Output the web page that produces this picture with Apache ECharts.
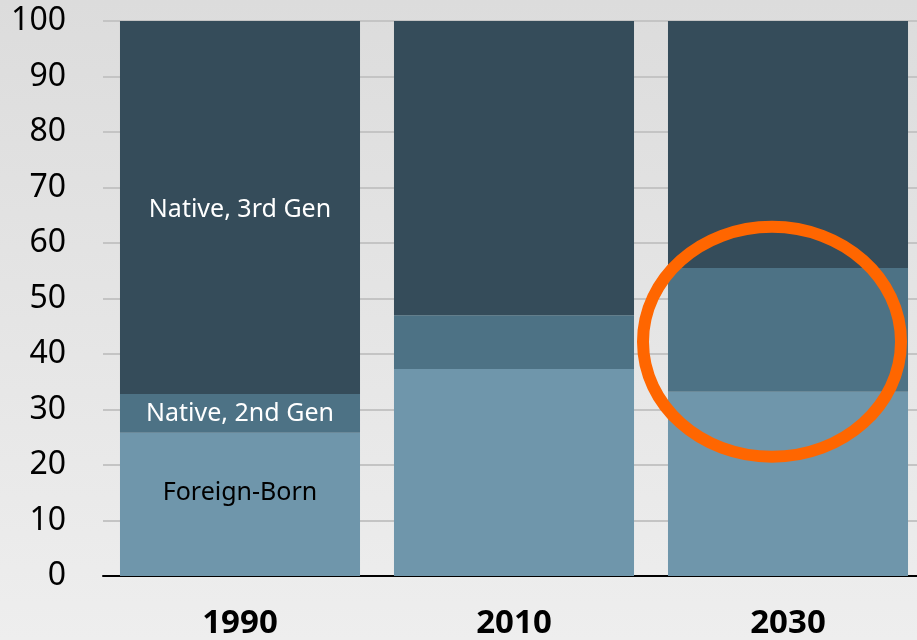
<!DOCTYPE html>
<html>
<head>
<meta charset="utf-8">
<script src="https://cdn.jsdelivr.net/npm/echarts@6/dist/echarts.min.js"></script>
<style>
  html, body { margin: 0; padding: 0; }
  #chart { width: 917px; height: 640px; }
</style>
</head>
<body>
<div id="chart"></div>
<script>
// data (percent of population)
var years = ['1990', '2010', '2030'];
var foreignBorn = [25.8, 37.3, 33.2];
var native2nd = [7.0, 9.7, 22.3];
var native3rd = [67.2, 53.0, 44.5];
var yTicks = [0, 10, 20, 30, 40, 50, 60, 70, 80, 90, 100];

var font = 'Noto Sans';

var chart = echarts.init(document.getElementById('chart'));

function onlyFirst(text) {
  return function (p) { return p.dataIndex === 0 ? text : ''; };
}

var option = {
  animation: false,
  backgroundColor: {
    type: 'linear', x: 0, y: 0, x2: 0, y2: 1,
    colorStops: [{ offset: 0, color: '#dcdcdc' }, { offset: 1, color: '#eeeeee' }]
  },
  // plot runs a bit past the right edge, like the cropped original
  grid: { left: 103, width: 822, top: 21, bottom: 64, outerBoundsMode: 'none' },
  xAxis: {
    type: 'category',
    data: years,
    axisTick: { show: false },
    axisLine: { lineStyle: { color: '#000', width: 2 } },
    axisLabel: { fontFamily: font, fontSize: 33, fontWeight: 'bold', color: '#000', margin: 31 }
  },
  yAxis: {
    type: 'value',
    min: yTicks[0],
    max: yTicks[yTicks.length - 1],
    interval: 10,
    axisLine: { show: false },
    axisTick: { show: false },
    axisLabel: { fontFamily: font, fontSize: 32, color: '#000', margin: 37 },
    splitLine: { lineStyle: { color: '#c4c4c4', width: 2 } }
  },
  series: [
    {
      name: 'Foreign-Born', type: 'bar', stack: 'pop', data: foreignBorn,
      barCategoryGap: '12.4%',
      itemStyle: { color: '#6f96ab' },
      label: { show: true, position: 'inside', offset: [0, -12], formatter: onlyFirst('Foreign-Born'),
        fontFamily: font, fontSize: 25, color: '#000' }
    },
    {
      name: 'Native, 2nd Gen', type: 'bar', stack: 'pop', data: native2nd,
      itemStyle: { color: '#4d7285' },
      label: { show: true, position: 'inside', formatter: onlyFirst('Native, 2nd Gen'),
        fontFamily: font, fontSize: 25, color: '#fff' }
    },
    {
      name: 'Native, 3rd Gen', type: 'bar', stack: 'pop', data: native3rd,
      itemStyle: { color: '#354c5a' },
      label: { show: true, position: 'inside', offset: [0, 2], formatter: onlyFirst('Native, 3rd Gen'),
        fontFamily: font, fontSize: 25, color: '#fff' }
    }
  ]
};

chart.setOption(option);

// orange highlight ellipse around the 2030 middle segment
var c = chart.convertToPixel({ gridIndex: 0 }, ['2030', 42.2]);
chart.setOption({
  graphic: [{
    type: 'ellipse',
    shape: { cx: c[0] - 16, cy: c[1], rx: 129, ry: 115 },
    style: { fill: 'none', stroke: '#ff6600', lineWidth: 12 },
    z: 100
  }]
});
</script>
</body>
</html>
